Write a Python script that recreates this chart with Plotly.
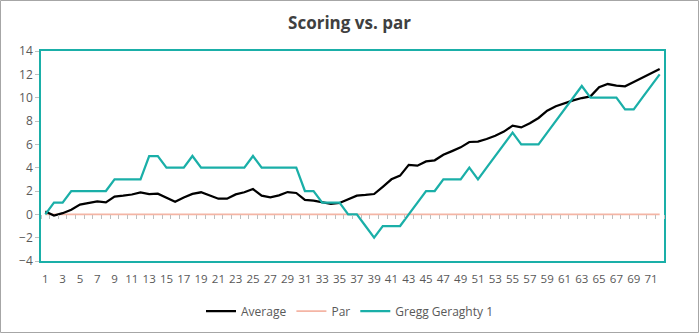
import plotly.graph_objects as go

holes = list(range(1, 73))
average = [0.25, -0.1, 0.1, 0.4, 0.83, 0.95, 1.1, 1.03, 1.52, 1.6,
           1.7, 1.88, 1.74, 1.77, 1.45, 1.08, 1.45, 1.75, 1.89, 1.6,
           1.34, 1.34, 1.71, 1.89, 2.17, 1.6, 1.46, 1.63, 1.91, 1.83,
           1.23, 1.17, 1.03, 0.89, 0.97, 1.26, 1.6, 1.66, 1.74, 2.36,
           3.0, 3.32, 4.24, 4.17, 4.54, 4.63, 5.1, 5.42, 5.74, 6.2,
           6.23, 6.46, 6.74, 7.09, 7.6, 7.45, 7.8, 8.26, 8.89, 9.26,
           9.54, 9.77, 9.97, 10.11, 10.89, 11.17, 11.03, 10.97, 11.34, 11.69,
           12.06, 12.46]
par = [0] * 72
gregg = [0, 1, 1, 2, 2, 2, 2, 2, 3, 3,
         3, 3, 5, 5, 4, 4, 4, 5, 4, 4,
         4, 4, 4, 4, 5, 4, 4, 4, 4, 4,
         2, 2, 1, 1, 1, 0, 0, -1, -2, -1,
         -1, -1, 0, 1, 2, 2, 3, 3, 3, 4,
         3, 4, 5, 6, 7, 6, 6, 6, 7, 8,
         9, 10, 11, 10, 10, 10, 10, 9, 9, 10,
         11, 12]
x_tick_labels = [str(h) for h in holes[::2]]

TEAL = "#1AAFA8"
SALMON = "#F4B5A5"
GRAY_TXT = "#595959"
FONT = "Open Sans"

fig = go.Figure()
fig.add_trace(go.Scatter(x=holes, y=par, mode="lines", name="Par",
                         line=dict(color=SALMON, width=1.75), legendrank=2))
fig.add_trace(go.Scatter(x=holes, y=average, mode="lines", name="Average",
                         line=dict(color="#000000", width=2.25), legendrank=1))
fig.add_trace(go.Scatter(x=holes, y=gregg, mode="lines", name="Gregg Geraghty 1",
                         line=dict(color=TEAL, width=2.25), legendrank=3))

# axis ticks along y = 0 (category boundaries)
fig.add_trace(go.Scatter(x=[holes[0]], y=[0], xaxis="x2", mode="none",
                         showlegend=False, hoverinfo="skip"))

ymin, ymax = -4, 14
W, H = 699, 333
L, R, T, B = 41, 35, 51, 72
pw, ph = W - L - R, H - T - B

fig.update_layout(
    width=W, height=H,
    margin=dict(l=L, r=R, t=T, b=B, autoexpand=False),
    paper_bgcolor="white", plot_bgcolor="white",
    font=dict(family=FONT, color=GRAY_TXT, size=12),
    title=dict(text="<b>Scoring vs. par</b>", x=0.5, xref="container",
               y=1 - 23 / H, yanchor="middle",
               font=dict(family=FONT, size=17, color="#404040")),
    xaxis=dict(range=[0.5, len(holes) + 0.5], tickvals=holes[::2],
               ticktext=x_tick_labels, ticks="", showgrid=False, zeroline=False,
               showline=True, linecolor=TEAL, linewidth=1.5, mirror=True,
               tickfont=dict(size=11.5, color=GRAY_TXT), ticklabelstandoff=6),
    xaxis2=dict(overlaying="x", anchor="free", position=(0 - ymin) / (ymax - ymin),
                range=[0.5, len(holes) + 0.5],
                tickvals=[h - 0.5 for h in holes] + [holes[-1] + 0.5],
                ticks="outside", ticklen=4, tickcolor="#BFBFBF", tickwidth=1,
                showticklabels=False, showgrid=False, zeroline=False, showline=False),
    yaxis=dict(range=[ymin, ymax], dtick=2, ticks="outside", ticklen=4,
               tickcolor="#BFBFBF", showgrid=False, zeroline=False,
               showline=True, linecolor=TEAL, linewidth=1.5, mirror=True,
               tickfont=dict(size=12, color=GRAY_TXT)),
    legend=dict(orientation="h", x=(W / 2 - L) / pw, xanchor="center",
                y=(T + ph - 311) / ph, yanchor="middle",
                font=dict(size=12, color=GRAY_TXT), traceorder="normal",
                itemwidth=30),
    shapes=[dict(type="rect", xref="paper", yref="paper",
                 x0=(0.5 - L) / pw, x1=(W - 0.5 - L) / pw,
                 y0=(T + ph - (H - 0.5)) / ph,
                 y1=(T + ph - 0.5) / ph,
                 line=dict(color="#A6A6A6", width=1), layer="below")],
)

fig.write_html("out.html")
